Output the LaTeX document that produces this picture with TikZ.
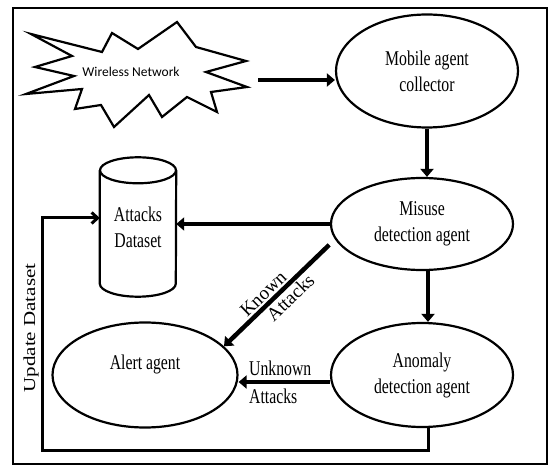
\documentclass[tikz,border=0pt]{standalone}
\usepackage{fontspec}
\setmainfont{Liberation Serif}[FakeStretch=0.75]
\newfontfamily\plainserif{Liberation Serif}
\newfontfamily\netfont{Carlito}
\usepackage{graphicx}
\usepackage{tikz}
\usetikzlibrary{arrows.meta,calc,shapes.geometric}

\begin{document}
\begin{tikzpicture}[
  x=1bp, y=-1bp,
  font=\fontsize{21bp}{26bp}\selectfont,
  agent/.style={draw, ellipse, line width=2.2bp, inner sep=0pt, align=center},
  store/.style={inner sep=0pt, align=center, minimum width=76bp, minimum height=139bp},
  arr/.style={-{Triangle[length=8bp,width=13bp]}, line width=4.5bp},
  updarr/.style={-{Straight Barb[length=6bp,width=11bp]}, line width=3bp},
  lbl/.style={font=\plainserif\fontsize{19bp}{24bp}\selectfont, sloped, inner sep=2bp},
]
\useasboundingbox (0,0) rectangle (552,469);
\draw[line width=2.5bp] (13,8) rectangle (547,464);

\node[font=\netfont\fontsize{13.5bp}{15bp}\selectfont] (net) at (131,72) {Wireless Network};
\begin{scope}[shift={(net.center)}]
  \draw[line width=2.2bp, line join=miter]
    (-100,-38) -- (-29,-20) -- (-19,-39) -- (7,-23) -- (46,-50) -- (65,-25)
    -- (115,-11) -- (75,0) -- (116,15) -- (80,20) -- (86,40) -- (56,25)
    -- (31,45) -- (18,23) -- (-17,55) -- (-30,33) -- (-56,37) -- (-49,17)
    -- (-105,22) -- (-57,4) -- (-96,-5) -- (-59,-16) -- cycle;
\end{scope}

\node[agent, minimum width=182bp, minimum height=113bp] (mobile) at (427,71) {Mobile agent\\collector};
\node[agent, minimum width=182bp, minimum height=92bp] (misuse) at (422,224) {Misuse\\detection agent};
\node[agent, minimum width=182bp, minimum height=104bp] (anomaly) at (422,375) {Anomaly\\detection agent};
\node[agent, minimum width=185bp, minimum height=105bp] (alert) at (145,375) {Alert agent\\\mbox{}};

% attacks dataset cylinder
\node[store] (data) at (138,227) {Attacks\\Dataset};
\draw[line width=2.2bp] ($(data.north)+(0,13)$) ellipse[x radius=38, y radius=13];
\draw[line width=2.2bp] ($(data.north west)+(0,13)$) -- ($(data.south west)+(0,-13)$)
  arc[start angle=180, end angle=0, x radius=38, y radius=13] -- ($(data.north east)+(0,13)$);

\coordinate (netout) at (258,80);
\draw[arr] (netout) -- (mobile.west |- netout);
\draw[arr] (mobile.south) -- (mobile.south |- misuse.north);
\draw[arr] (misuse.west) -- (data.east |- misuse.west);
\draw[arr] ([xshift=6bp]misuse.south) -- ([xshift=6bp]misuse.south |- anomaly.north);
\draw[arr, shorten <=8bp] (misuse.190) -- node[lbl, above, pos=.58]{Known}
  node[lbl, below, pos=.47]{Attacks} (alert.20);
\draw[arr] ([yshift=-7bp]anomaly.west) -- node[align=left, xshift=-4bp,
  font=\fontsize{21bp}{28bp}\selectfont]{Unknown\\Attacks} ([yshift=-7bp]alert.east);

% update loop back to the dataset
\coordinate (lane) at (42,450);
\draw[updarr] ([xshift=6bp]anomaly.south) |- (lane) |- ([yshift=9bp]data.west);
\node[rotate=90, font=\plainserif\fontsize{21bp}{24bp}\selectfont] (upd) at (31,328)
  {\scalebox{1}[0.8]{Update Dataset}};
\end{tikzpicture}
\end{document}
